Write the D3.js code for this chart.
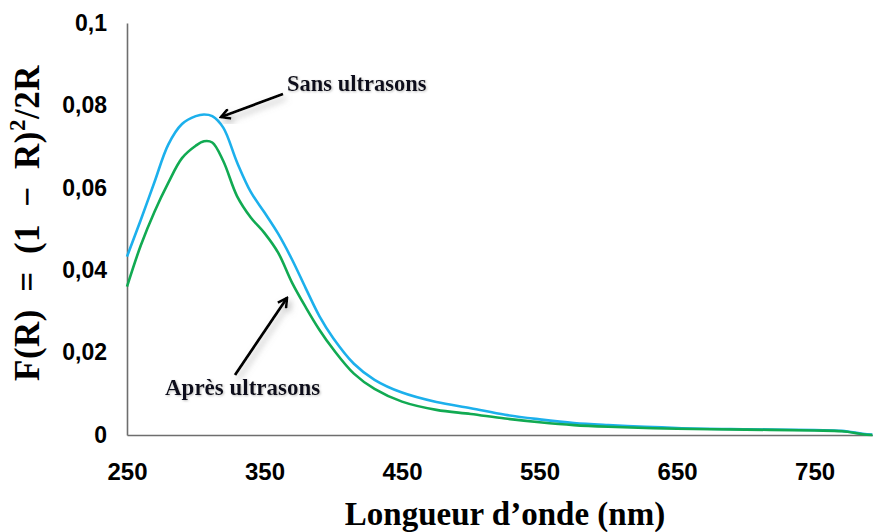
<!DOCTYPE html>
<html><head><meta charset="utf-8">
<script src="https://cdn.jsdelivr.net/npm/d3@7"></script>
<style>
body{margin:0;background:#fff;}
svg{display:block;}
</style></head>
<body><svg id="chart" width="873" height="532"></svg>
<script>
const wavelengths = [250,260,270,280,290,300,306,312,320,330,340,350,360,370,380,390,400,415,430,450,475,500,525,550,575,600,650,700,750,770,785,792];
const sansUltrasons = [0.0433,0.0522,0.0614,0.0705,0.0755,0.0774,0.0778,0.0774,0.0746,0.0662,0.0590,0.0540,0.0488,0.0426,0.0356,0.0288,0.0235,0.0173,0.0134,0.0103,0.0080,0.0065,0.0049,0.0038,0.0029,0.0024,0.0017,0.0014,0.0012,0.0010,0.0003,0.0001];
const apresUltrasons = [0.0360,0.0460,0.0542,0.0612,0.0672,0.0702,0.0713,0.0710,0.0665,0.0580,0.0528,0.0490,0.0442,0.0370,0.0310,0.0255,0.0208,0.0149,0.0112,0.0081,0.0061,0.0051,0.0040,0.0031,0.0024,0.0020,0.0015,0.0013,0.0011,0.0009,0.0002,0.0000];
const xTicks = [250,350,450,550,650,750];
const yTicks = [0,0.02,0.04,0.06,0.08,0.1];
const seriesNames = ["Sans ultrasons","Après ultrasons"];
const xTitle = "Longueur d\u2019onde  (nm)";

const svg = d3.select("#chart");
const x = d3.scaleLinear().domain([250,792.5]).range([127,873]);
const y = d3.scaleLinear().domain([0,0.1]).range([435,23]);

const defs = svg.append("defs");
const f = defs.append("filter").attr("id","shadow").attr("x","-30%").attr("y","-30%").attr("width","160%").attr("height","160%");
f.append("feDropShadow").attr("dx",3).attr("dy",4).attr("stdDeviation",3).attr("flood-color","#888").attr("flood-opacity",0.55);
const ft = defs.append("filter").attr("id","tshadow").attr("x","-10%").attr("y","-30%").attr("width","120%").attr("height","160%");
ft.append("feDropShadow").attr("dx",1).attr("dy",1).attr("stdDeviation",0.8).attr("flood-color","#999").attr("flood-opacity",0.6);
defs.append("marker").attr("id","arrow").attr("viewBox","0 0 12 12").attr("refX",10).attr("refY",6)
  .attr("markerWidth",12).attr("markerHeight",12).attr("markerUnits","userSpaceOnUse").attr("orient","auto")
  .append("path").attr("d","M1,1 L10,6 L1,11").attr("fill","none").attr("stroke","#000").attr("stroke-width",2.6);

// axes
const fmt = d => d===0 ? "0" : String(d).replace(".", ",");
const gx = svg.append("g").attr("transform","translate(0,435)")
  .call(d3.axisBottom(x).tickValues(xTicks).tickSize(0).tickSizeOuter(0).tickPadding(28));
const gy = svg.append("g").attr("transform","translate(127,0)")
  .call(d3.axisLeft(y).tickValues(yTicks).tickFormat(fmt).tickSize(0).tickSizeOuter(0).tickPadding(20));
[gx,gy].forEach(g=>{
  g.select(".domain").attr("stroke","#6e6e6e").attr("stroke-width",1.6);
  g.selectAll("text").attr("font-family","'Liberation Sans', Arial, sans-serif").attr("font-weight","bold").attr("fill","#000");
});
gx.selectAll("text").attr("font-size",24);
gy.selectAll("text").attr("font-size",23);

// lines
const pts = vals => wavelengths.map((w,i)=>[w,vals[i]]);
const line = d3.line().x(d=>x(d[0])).y(d=>y(d[1])).curve(d3.curveCatmullRom.alpha(0.5));
svg.append("path").datum(pts(sansUltrasons)).attr("d",line).attr("fill","none").attr("stroke","#1cb0ec").attr("stroke-width",2.6);
svg.append("path").datum(pts(apresUltrasons)).attr("d",line).attr("fill","none").attr("stroke","#11aa52").attr("stroke-width",2.6);

// titles
svg.append("text").attr("x",505).attr("y",525).attr("text-anchor","middle")
  .attr("font-family","'Liberation Serif','Times New Roman',serif").attr("font-weight","bold").attr("font-size",33)
  .attr("fill","#000").text(xTitle);
const yt = svg.append("text").attr("transform","translate(39,223) rotate(-90)").attr("text-anchor","middle")
  .attr("font-family","'Liberation Serif','Times New Roman',serif").attr("font-weight","bold").attr("font-size",35)
  .attr("letter-spacing",0.5).attr("fill","#000");
yt.append("tspan").text("F(R) = (1 \u2212 R)");
yt.append("tspan").attr("font-size",23).attr("dy",-14).text("2");
yt.append("tspan").attr("dy",14).text("/2R");
const ylen = yt.node().getComputedTextLength();
yt.attr("word-spacing", Math.max(0,(316 - ylen)/4));

// annotations
svg.append("line").attr("x1",283).attr("y1",94).attr("x2",221).attr("y2",117)
  .attr("stroke","#000").attr("stroke-width",2.8).attr("marker-end","url(#arrow)").attr("filter","url(#shadow)");
svg.append("line").attr("x1",235).attr("y1",375).attr("x2",287).attr("y2",298)
  .attr("stroke","#000").attr("stroke-width",2.8).attr("marker-end","url(#arrow)").attr("filter","url(#shadow)");
svg.append("text").attr("x",287).attr("y",91).attr("font-family","'Liberation Serif','Times New Roman',serif")
  .attr("font-weight","bold").attr("font-size",22.5).attr("fill","#0a0a1a").attr("filter","url(#tshadow)").text(seriesNames[0]);
svg.append("text").attr("x",165).attr("y",395).attr("font-family","'Liberation Serif','Times New Roman',serif")
  .attr("font-weight","bold").attr("font-size",23).attr("fill","#0a0a1a").attr("filter","url(#tshadow)").text(seriesNames[1]);
</script></body></html>
